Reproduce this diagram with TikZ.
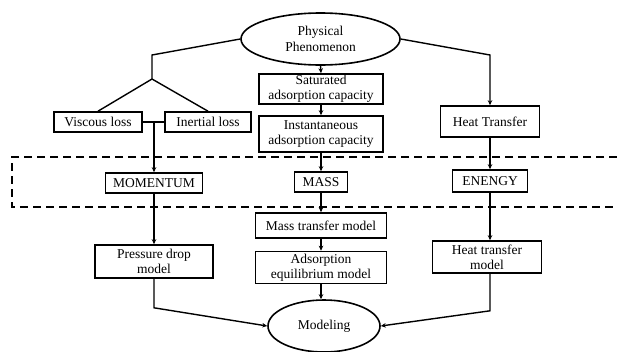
\documentclass[tikz,border=0pt]{standalone}
\usepackage{fontspec}
\setmainfont{Liberation Serif}
\usetikzlibrary{shapes.geometric,arrows.meta}

\begin{document}
\begin{tikzpicture}[x=1pt, y=-1pt,
    box/.style={draw, rectangle, line width=1.6pt, inner sep=0pt, align=center, font=\rmfamily\fontsize{13.5}{15}\selectfont},
    oval/.style={draw, ellipse, line width=1.6pt, inner sep=0pt, align=center, font=\rmfamily\fontsize{13.5}{16}\selectfont},
    flow/.style={-{Stealth[length=5pt, width=4.5pt]}, line width=1.4pt},
    link/.style={line width=1.4pt}]
      \useasboundingbox (0,0) rectangle (617,351);
      %
      \node[oval, minimum width=159pt, minimum height=52pt] (phys) at (320.5,39) {Physical\\Phenomenon};
      \node[box, minimum width=88pt, minimum height=20pt] (visc) at (98,122) {Viscous loss};
      \node[box, minimum width=86pt, minimum height=20pt] (iner) at (208,122) {Inertial loss};
      \node[box, minimum width=124pt, minimum height=30pt] (sat) at (321,89) {Saturated\\adsorption capacity};
      \node[box, minimum width=124pt, minimum height=36pt] (inst) at (321,134) {Instantaneous\\adsorption capacity};
      \node[box, minimum width=99pt, minimum height=31pt] (heat) at (490,121.5) {Heat Transfer};
      %
      \node[box, minimum width=97pt, minimum height=20pt] (mom) at (154,183) {MOMENTUM};
      \node[box, minimum width=53pt, minimum height=20pt] (mass) at (321,182) {MASS};
      \node[box, minimum width=75pt, minimum height=22pt] (ener) at (490,181) {ENENGY};
      %
      \node[box, minimum width=131pt, minimum height=25pt] (mtm) at (321,225.5) {Mass transfer model};
      \node[box, minimum width=131pt, minimum height=32pt] (aem) at (321,267.5) {Adsorption\\equilibrium model};
      \node[box, minimum width=118pt, minimum height=33pt] (pdm) at (154,261.5) {Pressure drop\\model};
      \node[box, minimum width=109pt, minimum height=32pt] (htm) at (487,257) {Heat transfer\\model};
      \node[oval, minimum width=112pt, minimum height=52pt] (model) at (324,326) {Modeling};
      %
      \coordinate (split) at (152,55);
      \coordinate (fork) at (152,79);
      \coordinate (join) at (154,122);
      \coordinate (bend) at (490,55);
      %
      \draw[link] (phys.west) -- (split) -- (fork);
      \draw[link] (fork) -- (visc.north);
      \draw[link] (fork) -- (iner.north);
      \draw[link] (visc.east) -- (iner.west);
      \draw[flow] (join) -- (mom.north);
      \draw[flow] (phys.south) -- (sat.north);
      \draw[flow] (sat.south) -- (inst.north);
      \draw[flow] (inst.south) -- (mass.north);
      \draw[flow] (phys.east) -- (bend) -- (heat.north);
      \draw[flow] (heat.south) -- (ener.north);
      %
      \draw[flow] (mom.south) -- (pdm.north);
      \draw[flow] (mass.south) -- (mtm.north);
      \draw[flow] (ener.south) -- (ener.south |- htm.north);
      \draw[flow] (mtm.south) -- (aem.north);
      \draw[flow] (aem.south) -- (aem.south |- model.north);
      \draw[flow] (pdm.south) -- ++(0,29) -- (model.west);
      \draw[flow] (ener.south |- htm.south) -- ++(0,37) -- (model.east);
      %
      \draw[line width=1.8pt, dash pattern=on 8pt off 5pt] (617,157) -- (12,157) -- (12,207) -- (617,207);
    \end{tikzpicture}
\end{document}
